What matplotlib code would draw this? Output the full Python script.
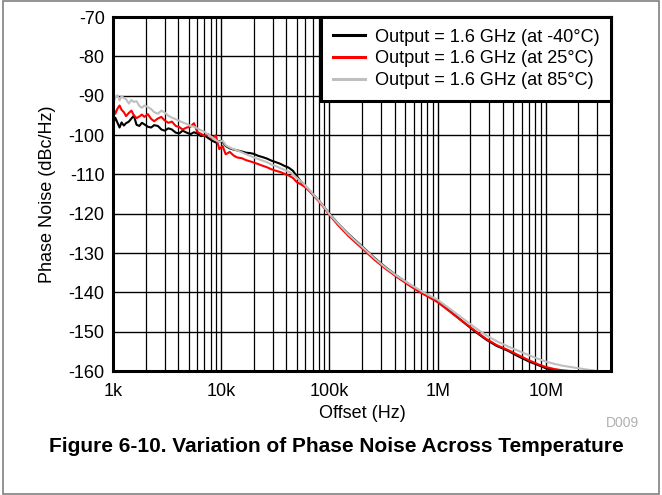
import numpy as np
import matplotlib.pyplot as plt
from matplotlib.patches import Rectangle
from matplotlib.ticker import FixedLocator, LogLocator, NullFormatter

# Phase noise vs offset at three temperatures

offset_hz = [1000, 1050, 1100, 1150, 1200, 1260, 1320, 1400, 1480, 1560,
             1650, 1750, 1850, 1950, 2100, 2250, 2400, 2600, 2800, 3000,
             3250, 3500, 3800, 4100, 4400, 4800, 5200, 5600, 6000, 6500,
             7000, 7600, 8200, 8900, 9600, 10300, 11000, 12000, 13000, 14000,
             15500, 17000, 18500, 20000, 22000, 24000, 26500, 29000, 32000, 35000,
             38000, 42000, 46000, 50000, 55000, 60000, 66000, 73000, 80000, 90000,
             1e5, 1.2e5, 1.5e5, 2e5, 2.6e5, 3.3e5, 4.2e5, 5.5e5, 7e5, 8.5e5,
             1e6, 1.3e6, 1.7e6, 2.2e6, 2.8e6, 3.5e6, 4.5e6, 5.5e6, 7e6, 8.5e6,
             1e7, 1.2e7, 1.4e7]
red_tail_hz = [1.7e7, 1.9e7]
gray_tail_hz = [1.7e7, 2e7, 2.5e7, 3e7, 3.5e7]

pn_m40 = [-97.2, -95.6, -96.9, -98.1, -96.8, -97.6, -97.0, -96.6, -95.8, -95.1,
          -97.4, -97.7, -96.9, -97.3, -97.9, -98.1, -97.5, -97.7, -98.6, -98.9,
          -98.3, -98.6, -99.4, -99.6, -98.9, -99.4, -99.8, -99.3, -99.6, -100.3,
          -100.1, -100.8, -101.4, -101.9, -101.6, -101.7, -102.8, -103.4, -103.7, -103.9,
          -104.2, -104.5, -104.6, -104.8, -105.3, -105.6, -106.0, -106.5, -106.9, -107.3,
          -107.8, -108.3, -109.1, -110.5, -111.9, -113.0, -114.2, -115.5, -116.7, -118.4,
          -120.0, -122.5, -125.2, -128.3, -131.2, -133.6, -135.8, -138.0, -139.8, -141.2,
          -142.3, -144.8, -147.4, -149.9, -152.0, -153.6, -154.9, -156.2, -157.6, -158.5,
          -159.3, -159.8, -160.2]

pn_25 = [-92.8, -94.6, -93.3, -92.5, -93.6, -94.2, -95.2, -94.4, -93.8, -95.0,
         -95.7, -95.3, -94.8, -95.4, -94.7, -95.9, -96.5, -95.8, -95.4, -96.3,
         -96.9, -96.6, -97.7, -98.0, -98.6, -98.1, -97.9, -97.0, -99.2, -99.7,
         -100.2, -99.8, -100.9, -100.1, -103.6, -102.8, -104.9, -104.3, -105.2, -105.7,
         -105.9, -106.4, -106.7, -107.0, -107.4, -107.8, -108.2, -108.7, -109.1, -109.4,
         -109.8, -110.3, -110.9, -112.0, -112.6, -113.3, -114.4, -115.7, -116.9, -118.6,
         -120.3, -122.9, -125.7, -128.8, -131.7, -134.0, -136.1, -138.3, -140.1, -141.4,
         -142.5, -144.9, -147.4, -149.7, -151.8, -153.4, -154.7, -155.9, -157.3, -158.3,
         -159.0, -159.5, -159.8, -160.0, -160.3]

pn_85 = [-92.0, -90.4, -89.9, -91.2, -90.1, -90.6, -90.9, -92.0, -91.1, -91.6,
         -91.4, -92.6, -93.1, -92.5, -92.9, -93.4, -94.2, -94.6, -93.8, -94.3,
         -95.1, -95.6, -96.0, -96.4, -96.8, -97.2, -97.7, -97.9, -98.3, -98.8,
         -99.2, -99.9, -100.6, -101.3, -101.8, -101.4, -102.6, -103.2, -103.6, -103.9,
         -104.4, -104.9, -105.3, -105.7, -106.1, -106.5, -106.9, -107.5, -107.9, -108.4,
         -108.8, -109.3, -110.0, -110.9, -111.8, -112.9, -114.1, -115.5, -116.7, -118.4,
         -120.1, -122.5, -125.3, -128.4, -131.3, -133.7, -135.8, -137.9, -139.6, -140.9,
         -141.9, -144.2, -146.6, -148.9, -150.9, -152.4, -153.8, -154.8, -156.0, -156.9,
         -157.6, -158.2, -158.6, -159.0, -159.3, -159.7, -160.0, -160.3]

labels = ['Output = 1.6 GHz (at -40°C)', 'Output = 1.6 GHz (at 25°C)',
          'Output = 1.6 GHz (at 85°C)']
x_ticks = [1e3, 1e4, 1e5, 1e6, 1e7]
x_ticklabels = ['1k', '10k', '100k', '1M', '10M']
y_ticks = list(range(-70, -161, -10))

plt.rcParams['font.family'] = ['Liberation Sans', 'DejaVu Sans']

fig = plt.figure(figsize=(6.62, 4.95), dpi=100)
ax = fig.add_axes([113 / 662, 1 - 371 / 495, 498 / 662, 354 / 495])

ax.plot(offset_hz, pn_m40, color='black', lw=1.5, label=labels[0])
ax.plot(offset_hz + red_tail_hz, pn_25, color='#ff0000', lw=1.5, label=labels[1])
ax.plot(offset_hz + gray_tail_hz, pn_85, color='#bfbfbf', lw=1.5, label=labels[2])

ax.set_xscale('log')
ax.set_xlim(1e3, 4e7)
ax.set_ylim(-160, -70)
ax.xaxis.set_major_locator(FixedLocator(x_ticks))
ax.set_xticklabels(x_ticklabels)
ax.xaxis.set_minor_locator(LogLocator(base=10, subs=np.arange(2, 10)))
ax.xaxis.set_minor_formatter(NullFormatter())
ax.set_yticks(y_ticks)
ax.set_yticklabels([str(v) for v in y_ticks])
ax.tick_params(which='both', length=0, labelsize=13)
ax.tick_params(axis='x', pad=9)
ax.tick_params(axis='y', pad=6)
ax.grid(which='major', color='black', lw=1.0)
ax.grid(which='minor', axis='x', color='black', lw=0.9)
ax.set_axisbelow(True)
for s in ax.spines.values():
    s.set_linewidth(2.2)

ax.set_xlabel('Offset (Hz)', fontsize=13, labelpad=3)
ax.set_ylabel('Phase Noise (dBc/Hz)', fontsize=13, labelpad=9)

leg = ax.legend(loc='upper right', fontsize=13.1, frameon=True, fancybox=False,
                borderaxespad=0, handlelength=1.8, handletextpad=0.5,
                labelspacing=0.25, borderpad=0.65, framealpha=1)
leg.get_frame().set_edgecolor('black')
leg.get_frame().set_linewidth(2.2)
for line in leg.get_lines():
    line.set_linewidth(2.2)

fig.text(622 / 662, 1 - 423 / 495, 'D009', color='#b0b0b0', fontsize=10,
         ha='center', va='center')
fig.text(336 / 662, 1 - 447 / 495,
         'Figure 6-10. Variation of Phase Noise Across Temperature',
         fontsize=15, fontweight='bold', ha='center', va='center')
fig.patches.append(Rectangle((0.005, 0.003), 0.99, 0.994, transform=fig.transFigure,
                             fill=False, edgecolor='#808080', lw=1.2))

fig.savefig('out.png', dpi=100)
